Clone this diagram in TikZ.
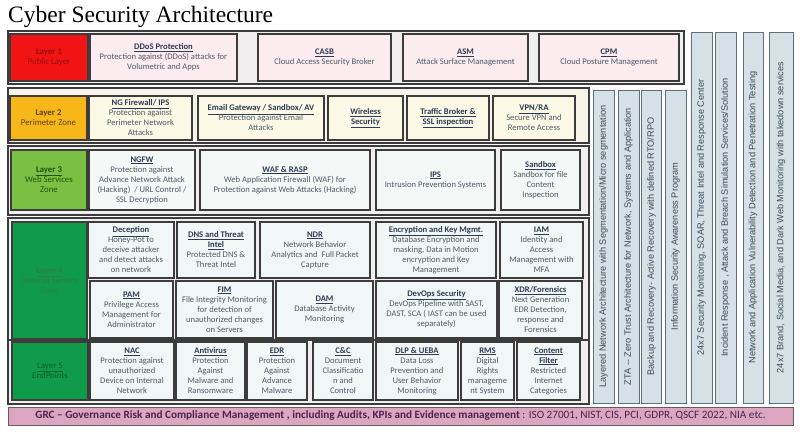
\documentclass[tikz,border=0pt]{standalone}
\usepackage{fontspec}
\setmainfont{Carlito}
\newfontfamily\titlefont{Liberation Serif}
\newfontfamily\colfont{Liberation Sans}
\usepackage{xcolor}
\usepackage{tikz}

\definecolor{linegrey}{HTML}{3C3C3C}
\definecolor{framegrey}{HTML}{F0EEEE}
\definecolor{headblue}{HTML}{2B3A55}
\definecolor{bodygrey}{HTML}{4F5B66}
\definecolor{pubred}{HTML}{F01414}
\definecolor{pubtext}{HTML}{9A0C0C}
\definecolor{perimamber}{HTML}{F8B719}
\definecolor{perimtext}{HTML}{5C3D00}
\definecolor{webgreen}{HTML}{7AC143}
\definecolor{webtext}{HTML}{1F5010}
\definecolor{intgreen}{HTML}{0F9B4A}
\definecolor{inttext}{HTML}{2F7F45}
\definecolor{endtext}{HTML}{0B5E2A}
\definecolor{pubpink}{HTML}{FCEBEF}
\definecolor{perimcream}{HTML}{FCF9E6}
\definecolor{webmint}{HTML}{F4F8F6}
\definecolor{intmint}{HTML}{F1F7F6}
\definecolor{colblue}{HTML}{D5E1E7}
\definecolor{coledge}{HTML}{5B727C}
\definecolor{coltext}{HTML}{3B4B57}
\definecolor{grcpink}{HTML}{DCA6C0}
\definecolor{grcedge}{HTML}{6B5A62}
\definecolor{grctext}{HTML}{4A2352}

\newcommand{\boxhead}[1]{\textcolor{headblue}{\underline{\textbf{#1}}}}

\begin{document}
\begin{tikzpicture}[x=1pt, y=-1pt,
	boxsize/.style 2 args={minimum width=#1pt, minimum height=#2pt},
	rowframe/.style={draw=linegrey, line width=1.6pt, fill=framegrey, inner sep=0pt},
	secbox/.style={draw=linegrey, line width=1.2pt, align=center, inner sep=1pt,
		text=bodygrey, font=\fontsize{8.6}{10}\selectfont},
	layerbox/.style={secbox, font=\fontsize{8.8}{10}\selectfont},
	colbox/.style={draw=coledge, line width=1pt, fill=colblue, rotate=90, inner sep=0pt,
		text=coltext, font=\colfont\fontsize{9.2}{10}\selectfont}]
	\useasboundingbox (0,0) rectangle (800,431);
	\fill[white] (0,0) rectangle (800,431);

	\node[anchor=base west, inner sep=0pt, font=\titlefont\fontsize{23.5}{24}\selectfont] (title) at (8,22) {Cyber Security Architecture};

	% row frames
	\begin{scope}[every node/.style={rowframe}]
		\node[boxsize={676}{53}] (row1) at (346,57.5) {};
		\node[boxsize={581}{55}, fill=perimcream!60!framegrey] (row2) at (298.5,115.5) {};
		\node[boxsize={581}{69}] (row3) at (298.5,180.5) {};
		\node[boxsize={581}{122}] (row4) at (298.5,279) {};
		\node[boxsize={581}{64}] (row5) at (298.5,372) {};
	\end{scope}

	% layer 1
	\begin{scope}[every node/.style={secbox, fill=pubpink}]
		\node[layerbox, fill=pubred, text=pubtext, boxsize={78}{47}] (layerA) at (49,57.5) {\textbf{Layer 1}\\Public Layer};
		\node[boxsize={147}{47}] (ddos) at (163.5,57.5) {\boxhead{DDoS Protection}\\Protection against (DDoS) attacks for\\Volumetric and Apps};
		\node[boxsize={133}{47}] (casb) at (324.5,57.5) {\boxhead{CASB}\\Cloud Access Security Broker};
		\node[boxsize={125}{47}] (asm) at (465.5,57.5) {\boxhead{ASM}\\Attack Surface Management};
		\node[boxsize={140}{47}] (cpm) at (609,57.5) {\boxhead{CPM}\\Cloud Posture Management};
	\end{scope}

	% layer 2
	\begin{scope}[every node/.style={secbox, fill=perimcream}]
		\node[layerbox, fill=perimamber, text=perimtext, boxsize={77}{44}] (layerB) at (48.5,118) {\textbf{Layer 2}\\Perimeter Zone};
		\node[boxsize={103}{44}] (ngfwips) at (140.5,118) {\boxhead{NG Firewall/ IPS}\\Protection against\\Perimeter Network\\Attacks};
		\node[boxsize={126}{44}] (email) at (261,118) {\boxhead{Email Gateway / Sandbox/ AV}\\Protection against Email\\Attacks};
		\node[boxsize={75}{44}] (wireless) at (365.5,118) {\boxhead{Wireless}\\\boxhead{Security}};
		\node[boxsize={82}{44}] (traffic) at (448,118) {\boxhead{Traffic Broker \&}\\\boxhead{SSL inspection}};
		\node[boxsize={82}{44}] (vpn) at (534,118) {\boxhead{VPN/RA}\\Secure VPN and\\Remote Access};
	\end{scope}

	% layer 3
	\begin{scope}[every node/.style={secbox, fill=webmint}]
		\node[layerbox, fill=webgreen, text=webtext, boxsize={76}{60}] (layerC) at (49,180) {\underline{\textbf{Layer 3}}\\Web Services\\Zone};
		\node[boxsize={106}{60}] (ngfw) at (142,180) {\boxhead{NGFW}\\Protection against\\Advance Network Attack\\(Hacking)~ / URL Control /\\SSL Decryption};
		\node[boxsize={170}{60}] (waf) at (285,180) {\boxhead{WAF \& RASP}\\Web Application Firewall (WAF) for\\Protection against Web Attacks (Hacking)};
		\node[boxsize={119}{60}] (ips) at (435.5,180) {\boxhead{IPS}\\Intrusion Prevention Systems};
		\node[boxsize={79}{60}] (sandbox) at (540.5,180) {\boxhead{Sandbox}\\Sandbox for file\\Content\\Inspection};
	\end{scope}

	% layer 4
	\begin{scope}[every node/.style={secbox, fill=intmint}]
		\node[layerbox, fill=intgreen, text=inttext, boxsize={75}{117}] (layerD) at (49.5,280.5) {\underline{\textbf{Layer 4}}\\Internal Servers\\Zone};
		\node[boxsize={86}{56}] (deception) at (131,250) {\boxhead{Deception}\\Honey-Pot to\\deceive attacker\\and detect attacks\\on network};
		\node[boxsize={78}{56}] (dns) at (216,250) {\boxhead{DNS and Threat}\\\boxhead{Intel}\\Protected DNS \&\\Threat Intel};
		\node[boxsize={110}{56}] (ndr) at (315,250) {\boxhead{NDR}\\Network Behavior\\Analytics and~ Full Packet\\Capture};
		\node[boxsize={120}{56}] (crypto) at (436,250) {\boxhead{Encryption and Key Mgmt.}\\Database Encryption and\\masking, Data in Motion\\encryption and Key\\Management};
		\node[boxsize={83}{56}] (iam) at (541.5,250) {\boxhead{IAM}\\Identity and\\Access\\Management with\\MFA};
		\node[boxsize={83}{57}] (pam) at (131.5,309.5) {\boxhead{PAM}\\Privilege Access\\Management for\\Administrator};
		\node[boxsize={97}{57}] (fim) at (224.5,309.5) {\boxhead{FIM}\\File Integrity Monitoring\\for detection of\\unauthorized changes\\on Servers};
		\node[boxsize={97}{57}] (dam) at (324.5,309.5) {\boxhead{DAM}\\Database Activity\\Monitoring};
		\node[boxsize={121}{57}] (devops) at (436.5,309.5) {\boxhead{DevOps Security}\\DevOps Pipeline with SAST,\\DAST, SCA ( IAST can be used\\separately)};
		\node[boxsize={83}{57}] (xdr) at (540.5,309.5) {\boxhead{XDR/Forensics}\\Next Generation\\EDR Detection,\\response and\\Forensics};
	\end{scope}

	% layer 5
	\begin{scope}[every node/.style={secbox, fill=intmint}]
		\node[layerbox, fill=intgreen, text=endtext, boxsize={76}{58}] (layerE) at (50,371) {\underline{Layer 5}\\EndPoints};
		\node[boxsize={84}{58}] (nac) at (132,371) {\boxhead{NAC}\\Protection against\\unauthorized\\Device on Internal\\Network};
		\node[boxsize={69}{58}] (antivirus) at (210.5,371) {\boxhead{Antivirus}\\Protection\\Against\\Malware and\\Ransomware};
		\node[boxsize={60}{58}] (edr) at (277,371) {\boxhead{EDR}\\Protection\\Against\\Advance\\Malware};
		\node[boxsize={60}{58}] (cac) at (343,371) {\boxhead{C\&C}\\Document\\Classificatio\\n and\\Control};
		\node[boxsize={82}{58}] (dlp) at (417,371) {\boxhead{DLP \& UEBA}\\Data Loss\\Prevention and\\User Behavior\\Monitoring};
		\node[boxsize={53}{58}] (rms) at (487.5,371) {\boxhead{RMS}\\Digital\\Rights\\manageme\\nt System};
		\node[boxsize={63}{58}] (filter) at (548.5,371) {\boxhead{Content}\\\boxhead{Filter}\\Restricted\\Internet\\Categories};
	\end{scope}

	% vertical columns
	\begin{scope}[every node/.style={colbox}]
		\node[boxsize={313}{21}] (segment) at (603.5,246.5) {Layered Network Architecture with Segmentation/Micro segmentation};
		\node[boxsize={313}{21}] (zta) at (628.5,246.5) {ZTA -- Zero Trust Architecture for Network, Systems and Application};
		\node[boxsize={313}{20}] (backup) at (651.5,246.5) {Backup and Recovery- Active Recovery with defined RTO/RPO};
		\node[boxsize={313}{21}] (awareness) at (675.5,246.5) {Information Security Awareness Program};
		\node[boxsize={371}{21}] (soc) at (701.5,217.5) {24x7 Security Monitoring, SOAR, Threat Intel and Response Center};
		\node[boxsize={371}{21}] (incident) at (725.5,217.5) {Incident Response , Attack and Breach Simulation Services/Solution};
		\node[boxsize={371}{20}] (vapt) at (753,217.5) {Network and Application Vulnerability Detection and Penetration Testing};
		\node[boxsize={371}{24}] (brand) at (781,217.5) {24x7 Brand, Social Media, and Dark Web Monitoring with takedown services};
	\end{scope}

	% GRC bar
	\node[draw=grcedge, line width=1pt, fill=grcpink, boxsize={785}{18}, inner sep=0pt, text=grctext,
		font=\fontsize{11.2}{11}\selectfont] (grc) at (400.5,416) {\textbf{GRC -- Governance Risk and Compliance Management , including Audits, KPIs and Evidence management} : ISO 27001, NIST, CIS, PCI, GDPR, QSCF 2022, NIA etc.};
\end{tikzpicture}
\end{document}
